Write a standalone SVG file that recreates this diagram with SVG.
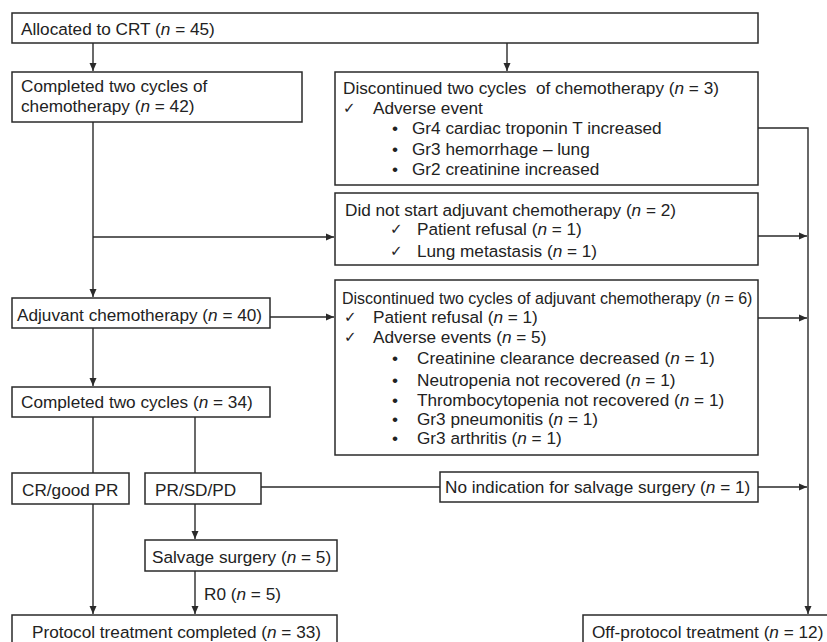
<svg xmlns="http://www.w3.org/2000/svg" width="827" height="642" viewBox="0 0 827 642">
<style>
.b{fill:#fff;stroke:#2a2a2a;stroke-width:1.5}
.c{fill:none;stroke:#2a2a2a;stroke-width:1.4}
text{font-family:"Liberation Sans",Arial,sans-serif;font-size:17.2px;fill:#222;white-space:pre}
.s{font-size:16px}
.k{font-family:"DejaVu Sans",sans-serif;font-size:15px}
.i{font-style:italic}
</style>
<defs>
<marker id="a" markerUnits="userSpaceOnUse" markerWidth="9" markerHeight="8" refX="8" refY="4" orient="auto">
<path d="M0,0.5 L8,4 L0,7.5 z" fill="#2a2a2a"/>
</marker>
</defs>
<g id="connectors">
<path class="c" d="M93,43 V71" marker-end="url(#a)"/>
<path class="c" d="M507,43 V71" marker-end="url(#a)"/>
<path class="c" d="M93,122 V297" marker-end="url(#a)"/>
<path class="c" d="M93,237 H334" marker-end="url(#a)"/>
<path class="c" d="M270,317 H334" marker-end="url(#a)"/>
<path class="c" d="M93,328 V386" marker-end="url(#a)"/>
<path class="c" d="M93,417 V473"/>
<path class="c" d="M195,417 V473"/>
<path class="c" d="M195,504 V539" marker-end="url(#a)"/>
<path class="c" d="M195,571 V614" marker-end="url(#a)"/>
<path class="c" d="M93,504 V614" marker-end="url(#a)"/>
<path class="c" d="M261,487 H440"/>
<path class="c" d="M758,128 H808 V614" marker-end="url(#a)"/>
<path class="c" d="M758,236 H807" marker-end="url(#a)"/>
<path class="c" d="M758,318 H807" marker-end="url(#a)"/>
<path class="c" d="M758,487 H807" marker-end="url(#a)"/>
<text x="204" y="600">R0 (<tspan class="i">n</tspan> = 5)</text>
</g>
<g id="allocated">
<rect class="b" x="12" y="13" width="746" height="30"/>
<text x="21" y="35">Allocated to CRT (<tspan class="i">n</tspan> = 45)</text>
</g>
<g id="completed-chemo">
<rect class="b" x="12" y="72" width="290" height="50"/>
<text x="21" y="92">Completed two cycles of</text>
<text x="21" y="112">chemotherapy (<tspan class="i">n</tspan> = 42)</text>
</g>
<g id="discontinued-chemo">
<rect class="b" x="335" y="72" width="423" height="113"/>
<text x="343" y="94">Discontinued two cycles  of chemotherapy (<tspan class="i">n</tspan> = 3)</text>
<text class="k" x="343" y="113">✓</text>
<text x="373" y="114">Adverse event</text>
<text x="392" y="134">•</text><text x="412" y="134">Gr4 cardiac troponin T increased</text>
<text x="392" y="155">•</text><text x="412" y="155">Gr3 hemorrhage – lung</text>
<text x="392" y="175">•</text><text x="412" y="175">Gr2 creatinine increased</text>
</g>
<g id="did-not-start">
<rect class="b" x="335" y="193" width="423" height="72"/>
<text x="345" y="216">Did not start adjuvant chemotherapy (<tspan class="i">n</tspan> = 2)</text>
<text class="k" x="390" y="234">✓</text>
<text x="417" y="235">Patient refusal (<tspan class="i">n</tspan> = 1)</text>
<text class="k" x="390" y="256">✓</text>
<text x="417" y="257">Lung metastasis (<tspan class="i">n</tspan> = 1)</text>
</g>
<g id="adjuvant">
<rect class="b" x="12" y="298" width="258" height="30"/>
<text x="17" y="321">Adjuvant chemotherapy (<tspan class="i">n</tspan> = 40)</text>
</g>
<g id="discontinued-adjuvant">
<rect class="b" x="335" y="280" width="423" height="175"/>
<text class="s" x="342" y="304">Discontinued two cycles of adjuvant chemotherapy (<tspan class="i">n</tspan> = 6)</text>
<text class="k" x="344" y="322">✓</text>
<text x="373" y="323">Patient refusal (<tspan class="i">n</tspan> = 1)</text>
<text class="k" x="344" y="342">✓</text>
<text x="373" y="343">Adverse events (<tspan class="i">n</tspan> = 5)</text>
<text x="392" y="364">•</text><text x="417" y="364">Creatinine clearance decreased (<tspan class="i">n</tspan> = 1)</text>
<text x="392" y="386">•</text><text x="417" y="386">Neutropenia not recovered (<tspan class="i">n</tspan> = 1)</text>
<text x="392" y="406">•</text><text x="417" y="406">Thrombocytopenia not recovered (<tspan class="i">n</tspan> = 1)</text>
<text x="392" y="425">•</text><text x="417" y="425">Gr3 pneumonitis (<tspan class="i">n</tspan> = 1)</text>
<text x="392" y="444">•</text><text x="417" y="444">Gr3 arthritis (<tspan class="i">n</tspan> = 1)</text>
</g>
<g id="completed-two">
<rect class="b" x="12" y="387" width="258" height="30"/>
<text x="21" y="408">Completed two cycles (<tspan class="i">n</tspan> = 34)</text>
</g>
<g id="cr-good-pr">
<rect class="b" x="12" y="473" width="117" height="31"/>
<text x="22" y="496">CR/good PR</text>
</g>
<g id="pr-sd-pd">
<rect class="b" x="145" y="473" width="116" height="31"/>
<text x="155" y="496">PR/SD/PD</text>
</g>
<g id="no-indication">
<rect class="b" x="440" y="472" width="318" height="30"/>
<text x="445" y="493">No indication for salvage surgery (<tspan class="i">n</tspan> = 1)</text>
</g>
<g id="salvage">
<rect class="b" x="145" y="540" width="192" height="31"/>
<text x="152" y="563">Salvage surgery (<tspan class="i">n</tspan> = 5)</text>
</g>
<g id="protocol-completed">
<rect class="b" x="12" y="615" width="325" height="40"/>
<text x="32" y="638">Protocol treatment completed (<tspan class="i">n</tspan> = 33)</text>
</g>
<g id="off-protocol">
<rect class="b" x="583" y="615" width="260" height="40"/>
<text x="592" y="638">Off-protocol treatment (<tspan class="i">n</tspan> = 12)</text>
</g>
</svg>
